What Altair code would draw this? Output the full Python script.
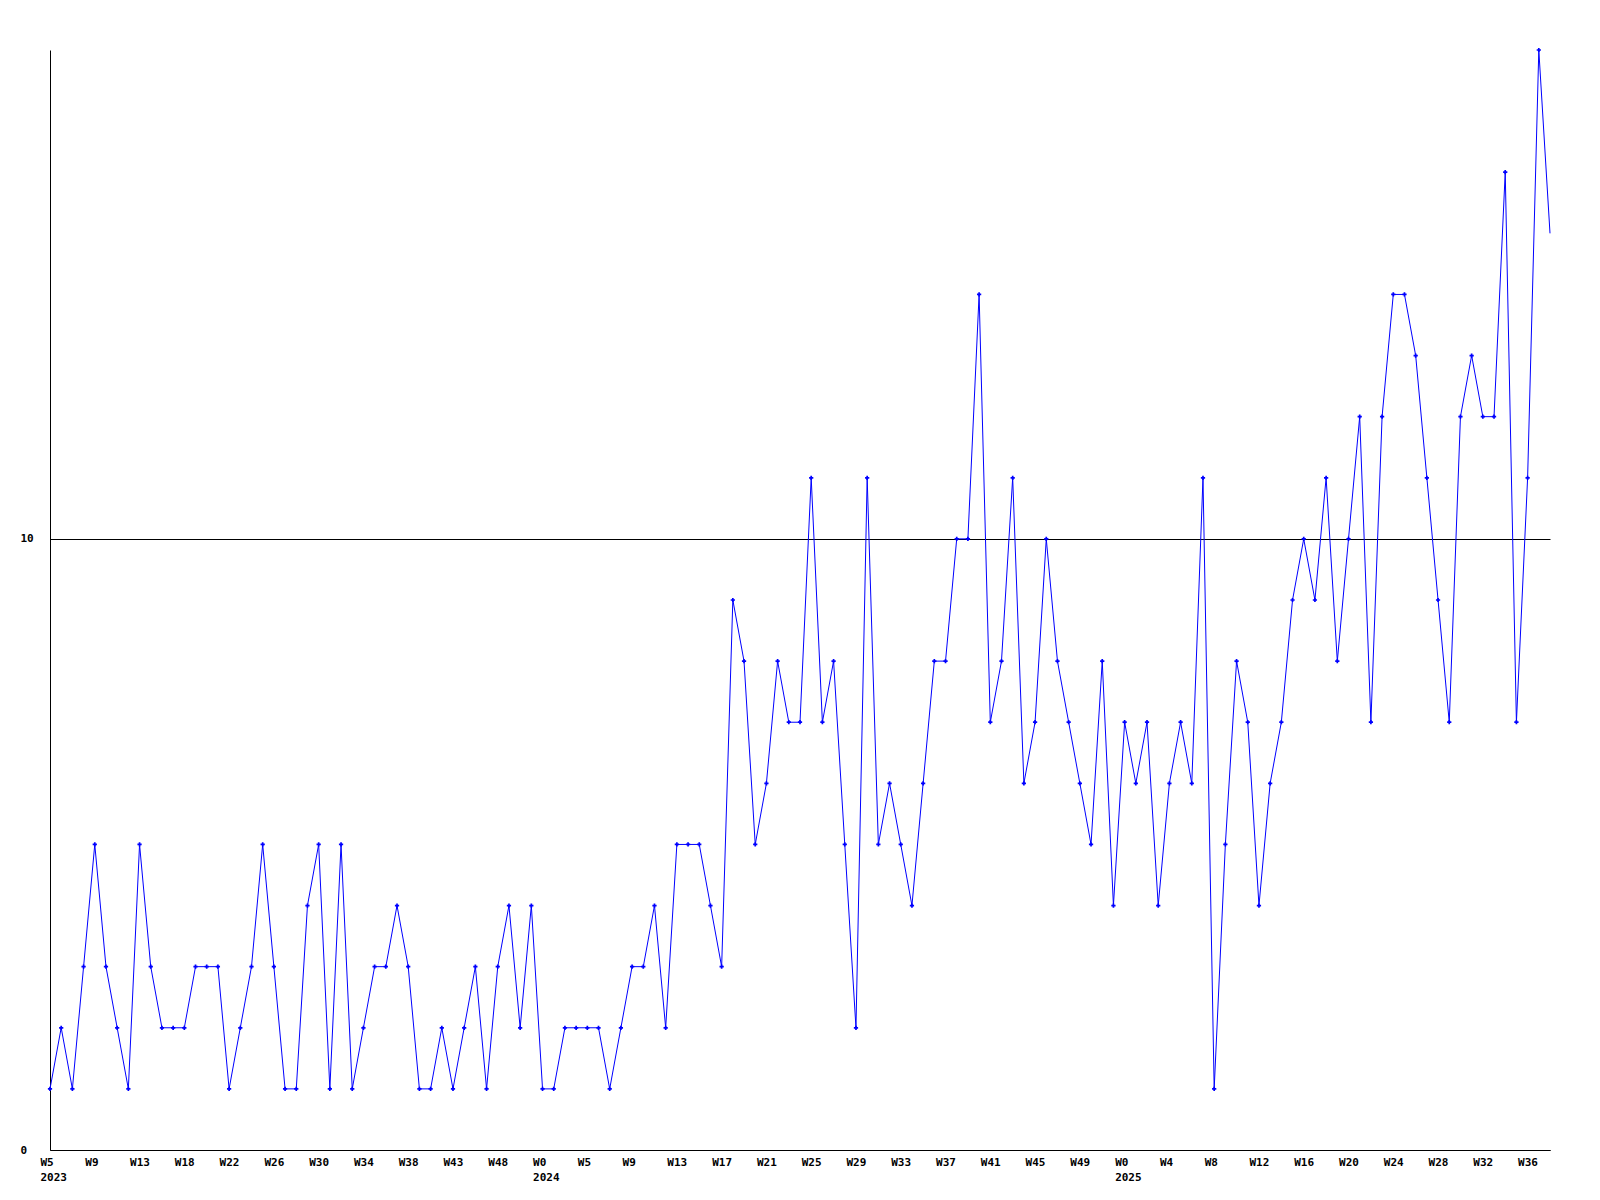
import altair as alt
import pandas as pd
import json

values = [1, 2, 1, 3, 5, 3, 2, 1, 5, 3, 2, 2, 2, 3, 3, 3, 1, 2, 3, 5,
          3, 1, 1, 4, 5, 1, 5, 1, 2, 3, 3, 4, 3, 1, 1, 2, 1, 2, 3, 1,
          3, 4, 2, 4, 1, 1, 2, 2, 2, 2, 1, 2, 3, 3, 4, 2, 5, 5, 5, 4,
          3, 9, 8, 5, 6, 8, 7, 7, 11, 7, 8, 5, 2, 11, 5, 6, 5, 4, 6, 8,
          8, 10, 10, 14, 7, 8, 11, 6, 7, 10, 8, 7, 6, 5, 8, 4, 7, 6, 7, 4,
          6, 7, 6, 11, 1, 5, 8, 7, 4, 6, 7, 9, 10, 9, 11, 8, 10, 12, 7, 12,
          14, 14, 13, 11, 9, 7, 12, 13, 12, 12, 16, 7, 11, 18, 15]

tick_idx = [0, 4, 8, 12, 16, 20, 24, 28, 32, 36, 40, 44, 48, 52, 56, 60, 64,
            68, 72, 76, 80, 84, 88, 92, 96, 100, 104, 108, 112, 116, 120, 124,
            128, 132]
tick_week = ["W5", "W9", "W13", "W18", "W22", "W26", "W30", "W34", "W38",
             "W43", "W48", "W0", "W5", "W9", "W13", "W17", "W21", "W25", "W29",
             "W33", "W37", "W41", "W45", "W49", "W0", "W4", "W8", "W12", "W16",
             "W20", "W24", "W28", "W32", "W36"]
tick_year = ["2023", "", "", "", "", "", "", "", "", "", "", "2024", "", "",
             "", "", "", "", "", "", "", "", "", "", "2025", "", "", "", "",
             "", "", "", "", ""]

y_ticks = [0, 10]

df = pd.DataFrame({"i": list(range(len(values))), "v": values})
last_i = len(values) - 1

label_arr = [[w, y] if y else [w] for w, y in zip(tick_week, tick_year)]
label_expr = json.dumps(label_arr) + "[round(datum.value / 4)]"

font = "DejaVu Sans Mono"

x_enc = alt.X(
    "i:Q",
    scale=alt.Scale(domain=[0, last_i], nice=False, zero=False),
    axis=alt.Axis(
        values=tick_idx,
        labelExpr=label_expr,
        title=None,
        ticks=False,
        tickSize=0,
        grid=False,
        domainColor="black",
        domainWidth=1,
        labelFont=font,
        labelFontWeight="bold",
        labelFontSize=11,
        labelColor="black",
        labelAlign="left",
        labelBaseline="top",
        labelOffset=-10,
        labelPadding=6,
        labelLineHeight=15,
        labelOverlap=False,
        labelFlush=False,
    ),
)
y_enc = alt.Y(
    "v:Q",
    scale=alt.Scale(domain=[0, 18], nice=False),
    axis=alt.Axis(
        values=y_ticks,
        title=None,
        ticks=False,
        tickSize=0,
        grid=True,
        gridColor="black",
        gridWidth=1,
        gridOpacity=1,
        domainColor="black",
        domainWidth=1,
        labelFont=font,
        labelFontWeight="bold",
        labelFontSize=11,
        labelColor="black",
        labelAlign="left",
        labelPadding=30,
        labelBaseline="middle",
    ),
)

base = alt.Chart(df).encode(x=x_enc, y=y_enc)
line = base.mark_line(color="#0000ff", strokeWidth=1)
pts = base.mark_point(shape="cross", filled=True, color="#0000ff", size=18,
                      opacity=1).transform_filter(f"datum.i < {last_i}")

chart = (line + pts).properties(
    width=1500,
    height=1100,
    autosize=alt.AutoSizeParams(type="none"),
    padding={"left": 42, "top": 42, "right": 40, "bottom": 40},
    background="white",
).configure_view(stroke=None)

chart.save("out.html", embed_options={"renderer": "svg", "actions": False})
